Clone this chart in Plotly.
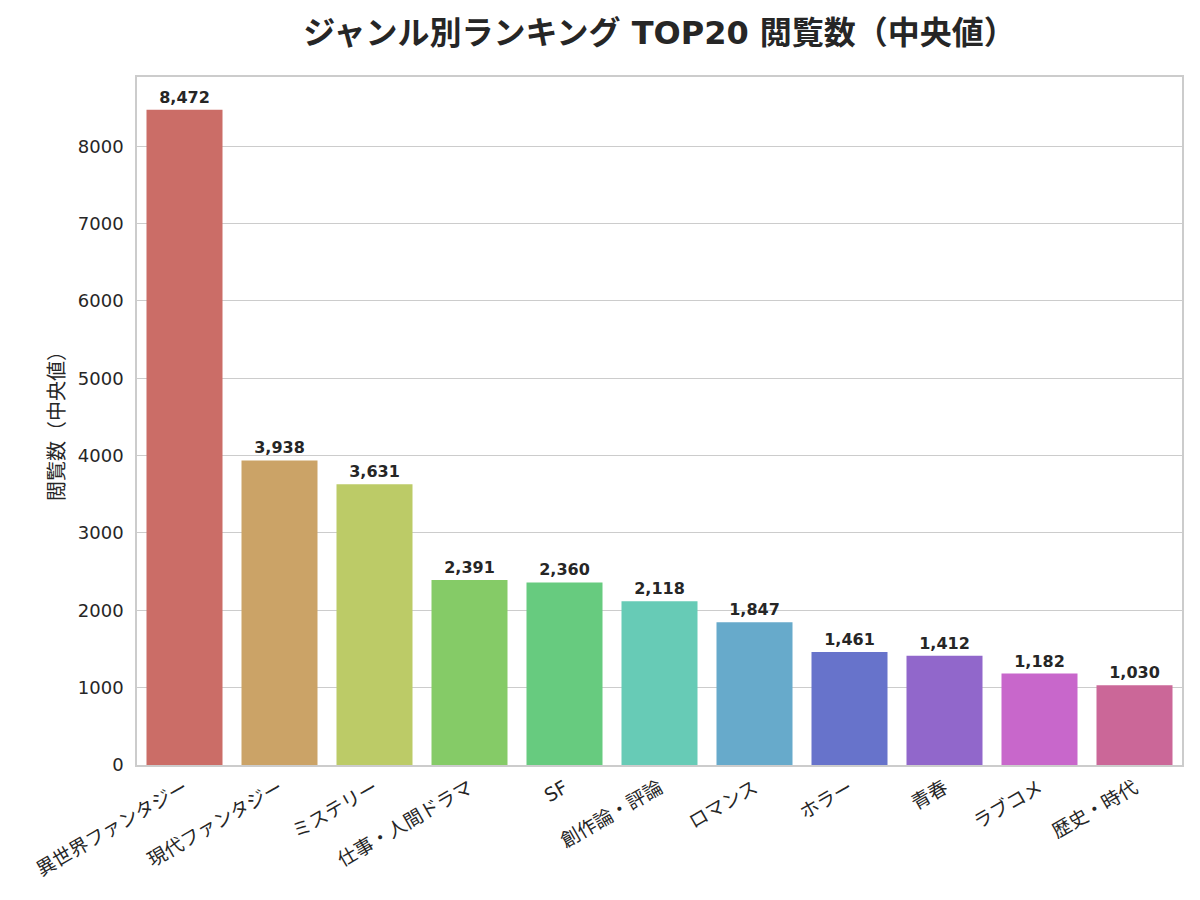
import colorsys
import plotly.graph_objects as go

genres = ["異世界ファンタジー", "現代ファンタジー", "ミステリー", "仕事・人間ドラマ", "SF",
          "創作論・評論", "ロマンス", "ホラー", "青春", "ラブコメ", "歴史・時代"]
views_median = [8472, 3938, 3631, 2391, 2360, 2118, 1847, 1461, 1412, 1182, 1030]

# seaborn-like hls palette, desaturated by 0.75
n = len(genres)
colors = []
for i in range(n):
    h = (i / n + 0.01) % 1
    r, g, b = colorsys.hls_to_rgb(h, 0.6, 0.65)
    hh, ll, ss = colorsys.rgb_to_hls(r, g, b)
    r, g, b = colorsys.hls_to_rgb(hh, ll, ss * 0.75)
    colors.append(f"rgb({int(round(r*255))},{int(round(g*255))},{int(round(b*255))})")

FONT = "DejaVu Sans, Noto Sans CJK JP"
TXT = "#262626"

fig = go.Figure(go.Bar(
    x=genres, y=views_median,
    marker=dict(color=colors, line=dict(width=0)),
    width=0.8,
    text=[f"{v:,}" for v in views_median],
    textposition="outside",
    textfont=dict(family=FONT, size=16, color=TXT, weight="bold"),
    cliponaxis=False,
))

fig.update_layout(
    width=1200, height=900,
    paper_bgcolor="white", plot_bgcolor="white",
    margin=dict(l=129, r=26, t=69, b=143, autoexpand=False),
    title=dict(text="<b>ジャンル別ランキング TOP20 閲覧数（中央値）</b>", x=0.5, xanchor="center",
               xref="paper",
               y=0.972, yanchor="middle",
               font=dict(family=FONT, size=32, color=TXT)),
    font=dict(family=FONT, color=TXT),
    showlegend=False,
)
fig.update_xaxes(
    range=[-0.5, n - 0.5], tickangle=-30, showgrid=False,
    showline=True, linecolor="#cccccc", linewidth=1.5, mirror=True,
    tickfont=dict(family=FONT, size=19, color=TXT),
    ticklabelstandoff=3,
    ticks="",
)
fig.update_yaxes(
    range=[0, max(views_median) * 1.05], dtick=1000,
    showgrid=True, gridcolor="#cccccc", gridwidth=1,
    showline=True, linecolor="#cccccc", linewidth=1.5, mirror=True,
    zeroline=False,
    tickfont=dict(family=FONT, size=18, color=TXT),
    ticklabelstandoff=8,
    title=dict(text="閲覧数（中央値）", font=dict(family=FONT, size=20, color=TXT), standoff=8),
    ticks="",
)
fig.write_html("out.html")
